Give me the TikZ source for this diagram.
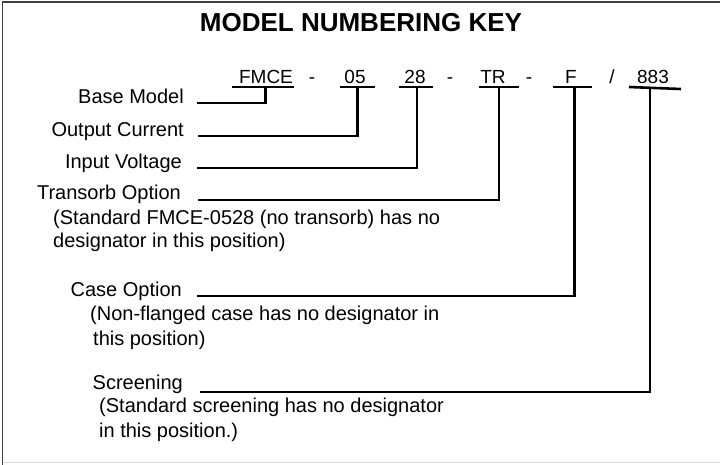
\documentclass[tikz,border=0pt]{standalone}
\usepackage{fontspec}
\setmainfont{Liberation Sans}
\begin{document}
\begin{tikzpicture}[x=1pt,y=-1pt,
  lbl/.style={anchor=base east,inner sep=0pt,font=\fontsize{20}{24}\selectfont},
  note/.style={anchor=base west,inner sep=0pt,font=\fontsize{20}{24}\selectfont},
  codetxt/.style={anchor=base,inner sep=0pt,font=\fontsize{19}{22}\selectfont},
  wire/.style={line width=2.6pt,line join=miter},
  uline/.style={line width=2.6pt}]
\useasboundingbox (0,0) rectangle (720,464);
% frame
\draw[black!75,line width=1.3pt] (2.5,470) -- (2.5,2) -- (730,2);
\draw[black!15,line width=1.3pt] (2.5,462.5) -- (730,462.5);
% title
\node[anchor=base,inner sep=0pt,font=\bfseries\fontsize{26}{30}\selectfont] (title) at (361,31) {MODEL NUMBERING KEY};
% code row
\node[codetxt] (cfmce) at (266,83) {FMCE};
\node[codetxt] (dash1) at (312,83) {-};
\node[codetxt] (c05) at (355,83) {05};
\node[codetxt] (c28) at (415,83) {28};
\node[codetxt] (dash2) at (450,83) {-};
\node[codetxt] (ctr) at (493,83) {TR};
\node[codetxt] (dash3) at (529,83) {-};
\node[codetxt] (cf) at (571,83) {F};
\node[codetxt] (slash) at (612,83) {/};
\node[codetxt] (c883) at (653,83) {883};
% underline coordinates
\coordinate (u1a) at (232,87);  \coordinate (u1b) at (294,87);
\coordinate (u2a) at (340,87);  \coordinate (u2b) at (375,87);
\coordinate (u3a) at (399,87);  \coordinate (u3b) at (433,87);
\coordinate (u4a) at (479,87);  \coordinate (u4b) at (519,87);
\coordinate (u5a) at (553,87);  \coordinate (u5b) at (592,87);
\coordinate (u6a) at (629,87);  \coordinate (u6b) at (681,89);
\draw[uline] (u1a) -- (u1b);
\draw[uline] (u2a) -- (u2b);
\draw[uline] (u3a) -- (u3b);
\draw[uline] (u4a) -- (u4b);
\draw[uline] (u5a) -- (u5b);
\draw[uline] (u6a) -- (u6b);
% labels
\node[lbl] (lbase) at (184,103) {Base Model};
\node[lbl] (lout) at (184,136) {Output Current};
\node[lbl] (lin) at (182,168) {Input Voltage};
\node[lbl] (ltr) at (181,199) {Transorb Option};
\node[note] (ntr1) at (53,224) {(Standard FMCE-0528 (no transorb) has no};
\node[note] (ntr2) at (53,247) {designator in this position)};
\node[lbl] (lcase) at (182,296) {Case Option};
\node[note] (ncase1) at (90,320) {(Non-flanged case has no designator in};
\node[note] (ncase2) at (93,345) {this position)};
\node[lbl] (lscr) at (183,389) {Screening};
\node[note] (nscr1) at (99,412) {(Standard screening has no designator};
\node[note] (nscr2) at (99,437) {in this position.)};
% connector ends
\coordinate (e1) at (197,103);
\coordinate (e2) at (198,136);
\coordinate (e3) at (197,168);
\coordinate (e4) at (198,200);
\coordinate (e5) at (197,296);
\coordinate (e6) at (200,392);
\coordinate (t1) at (265.5,87);
\coordinate (t2) at (357.5,87);
\coordinate (t3) at (417,87);
\coordinate (t4) at (499,87);
\coordinate (t5) at (574.5,87);
\coordinate (t6) at (650,88);
\draw[wire] (t1) |- (e1);
\draw[wire] (t2) |- (e2);
\draw[wire] (t3) |- (e3);
\draw[wire] (t4) |- (e4);
\draw[wire] (t5) |- (e5);
\draw[wire] (t6) |- (e6);
\end{tikzpicture}
\end{document}
